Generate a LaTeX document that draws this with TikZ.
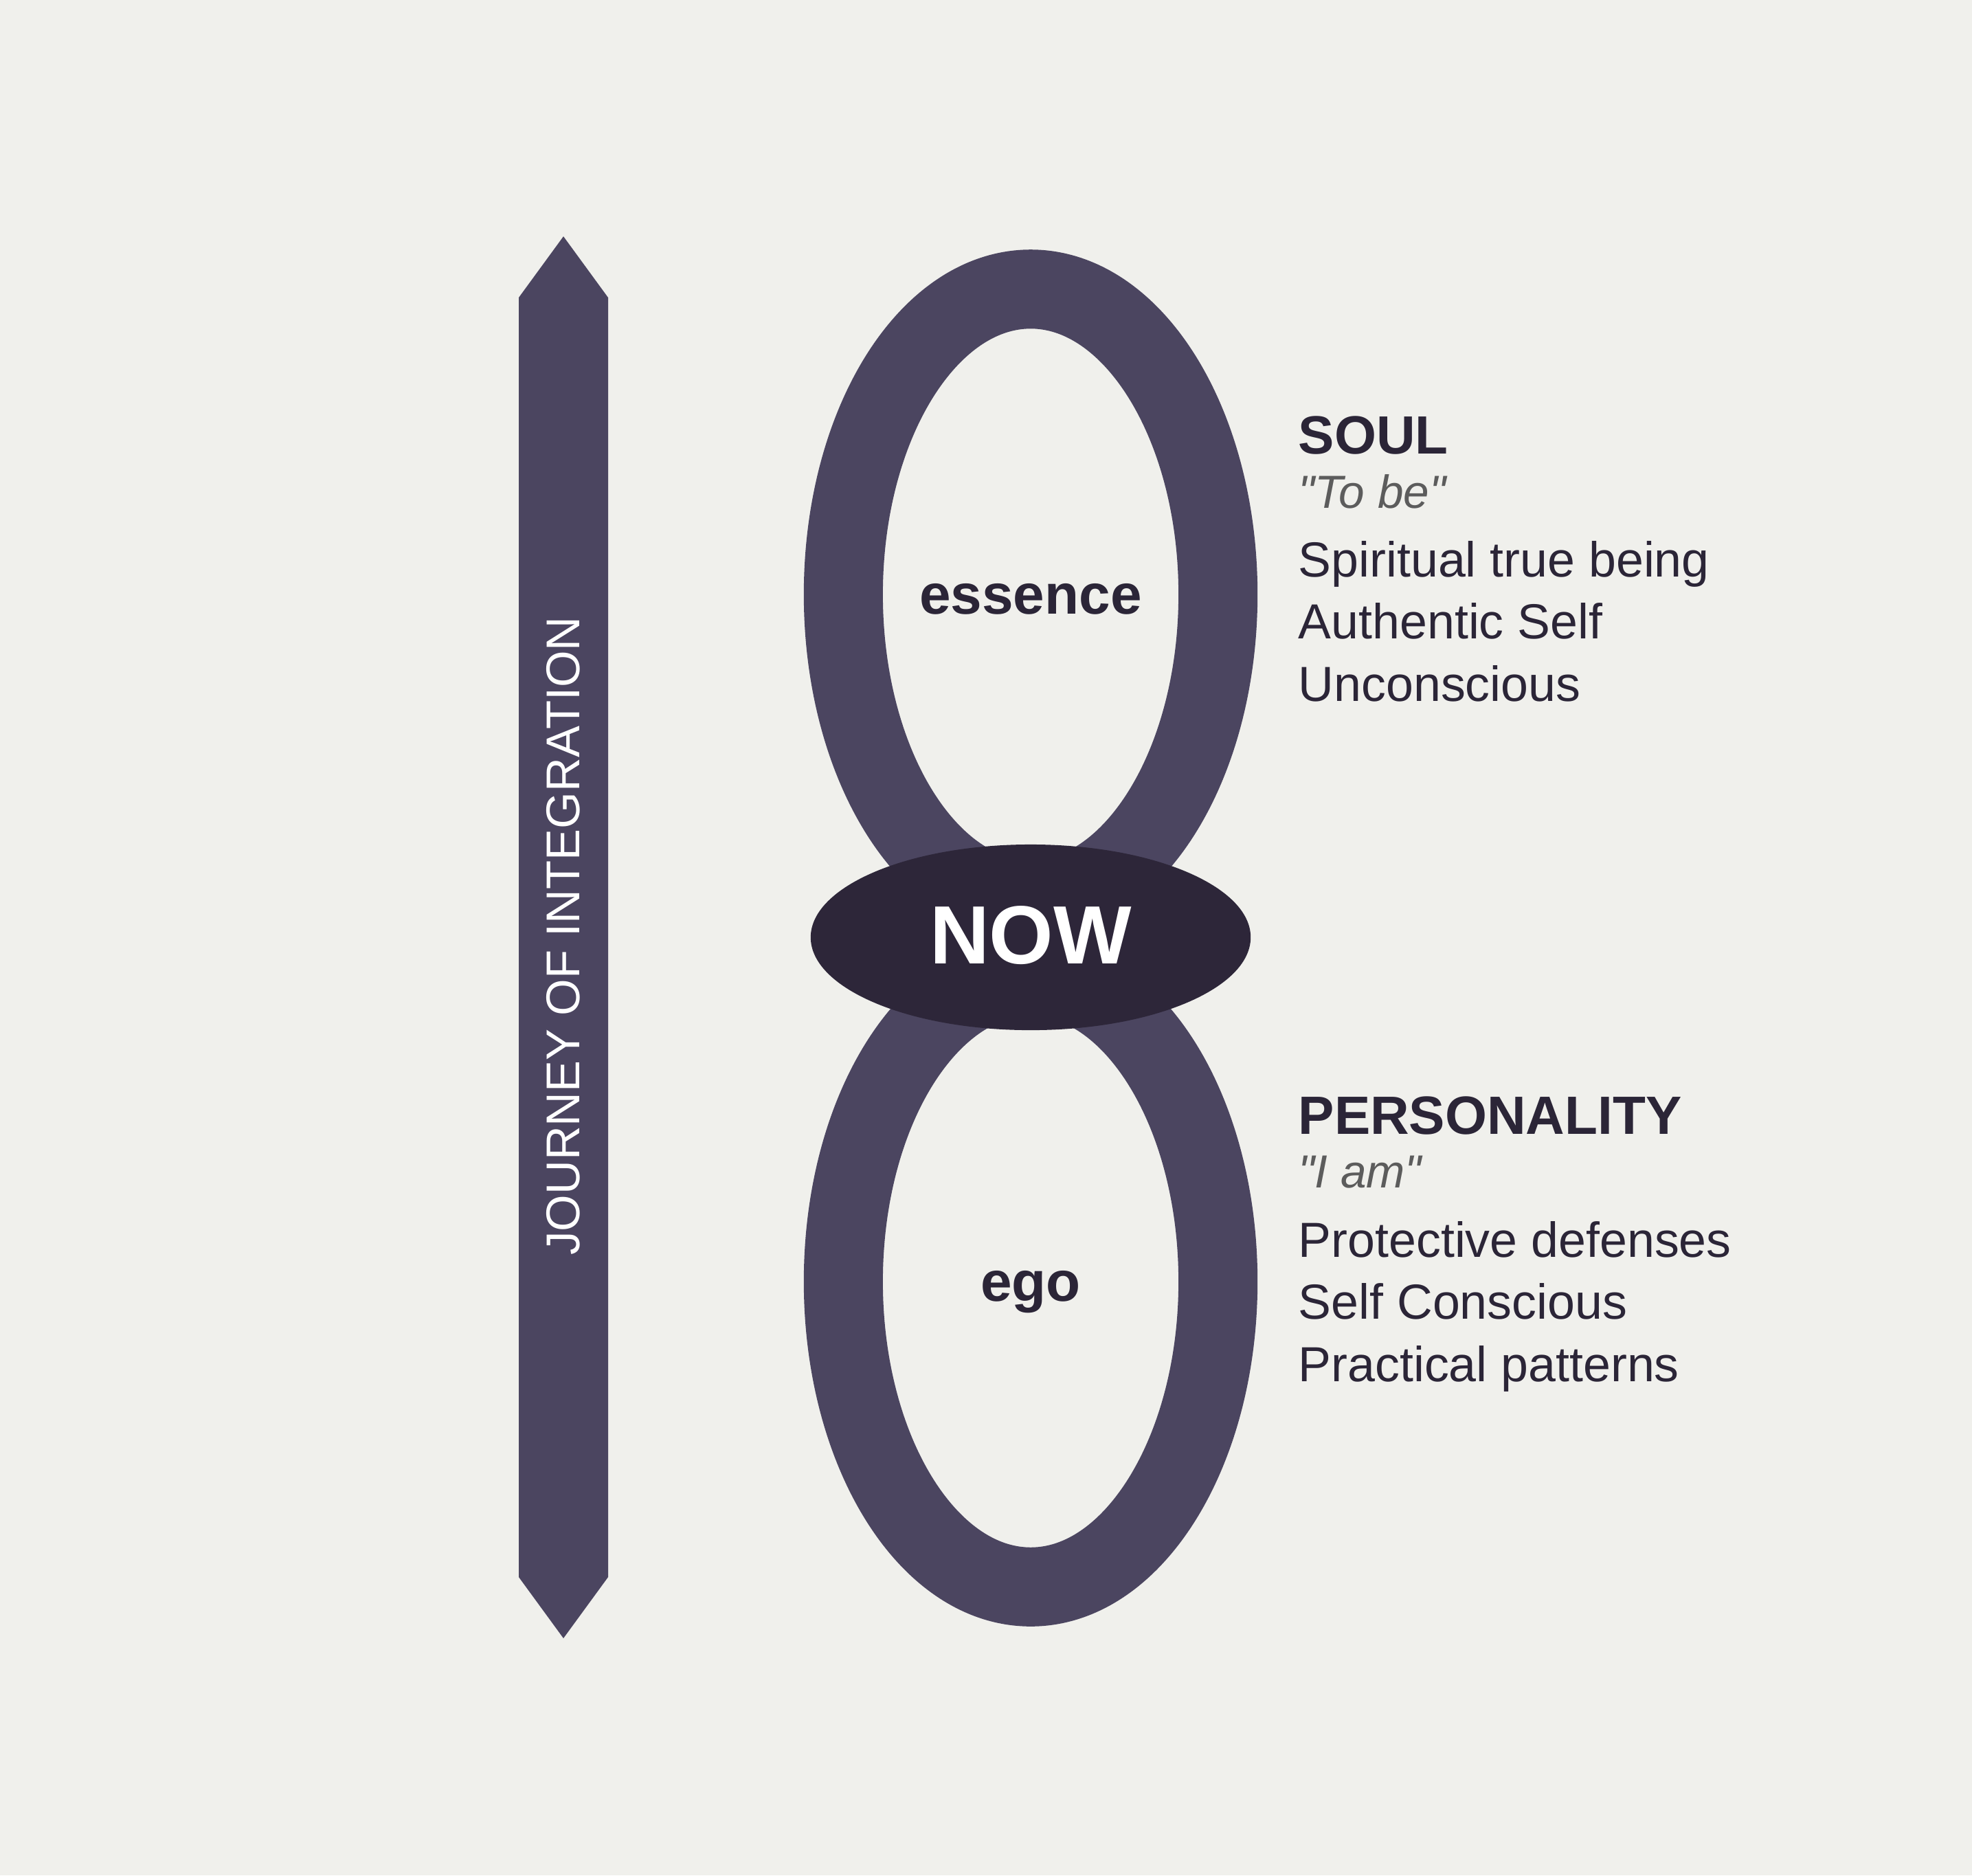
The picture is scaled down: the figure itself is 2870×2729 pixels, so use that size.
\documentclass[tikz,border=0pt]{standalone}
\usepackage{fontspec}
\setmainfont{Liberation Sans}
\definecolor{paper}{HTML}{F0F0EC}
\definecolor{ringcol}{HTML}{4B4560}
\definecolor{nowfill}{HTML}{2D2639}
\definecolor{ink}{HTML}{2B2537}
\definecolor{quotegray}{HTML}{5C5C5C}
\begin{document}
\begin{tikzpicture}[x=0.01cm,y=-0.01cm,line join=round,
  head/.style={anchor=base west,inner sep=0pt,text=ink,font=\fontsize{22.3}{26}\selectfont\bfseries},
  quote/.style={anchor=base west,inner sep=0pt,text=quotegray,font=\fontsize{19.2}{23}\selectfont\itshape},
  body/.style={anchor=base west,inner sep=0pt,text=ink,font=\fontsize{20.4}{24}\selectfont},
  core/.style={anchor=base,inner sep=0pt,text=ink,font=\fontsize{23.3}{27}\selectfont\bfseries}]
\def \cx{1500};
\def \xt{1889};
\def \soul{839};
\def \pers{1829};
% page
\fill[paper] (0,0) rectangle (2870,2729);
% journey arrow
\fill[ringcol] (755,433) -- (820,344) -- (885,433) -- (885,2295) -- (820,2384) -- (755,2295) -- cycle;
\node[rotate=90,inner sep=0pt,text=white,font=\fontsize{19.6}{23}\selectfont] (journey) at (820,1362) {JOURNEY OF INTEGRATION};
% the two loops and the knot
\foreach \y in {865,1865}{\draw[ringcol,line width=1.15cm] (\cx,\y) ellipse [x radius=2.725cm,y radius=4.44cm];}
\fill[nowfill] (\cx,1364) ellipse [x radius=3.2cm,y radius=1.35cm];
\node[anchor=base,inner sep=0pt,text=white,font=\fontsize{34.2}{39}\selectfont\bfseries] (now) at (\cx,1402) {NOW};
\node[core] (essence) at (\cx,893) {essence};
\node[core] (ego) at (\cx,1893) {ego};
% soul side
\node[head] (soul) at (\xt,660) {SOUL};
\node[quote] (tobe) at (\xt,739) {\textquotedbl To be\textquotedbl};
\foreach \t [count=\i] in {Spiritual true being,Authentic Self,Unconscious}
  \node[body] (soul\i) at (\xt,{\soul+90.5*(\i-1)}) {\t};
% personality side
\node[head] (personality) at (\xt,1650) {PERSONALITY};
\node[quote] (iam) at (\xt,1728) {\textquotedbl I am\textquotedbl};
\foreach \t [count=\i] in {Protective defenses,Self Conscious,Practical patterns}
  \node[body] (pers\i) at (\xt,{\pers+90.5*(\i-1)}) {\t};
\end{tikzpicture}
\end{document}
